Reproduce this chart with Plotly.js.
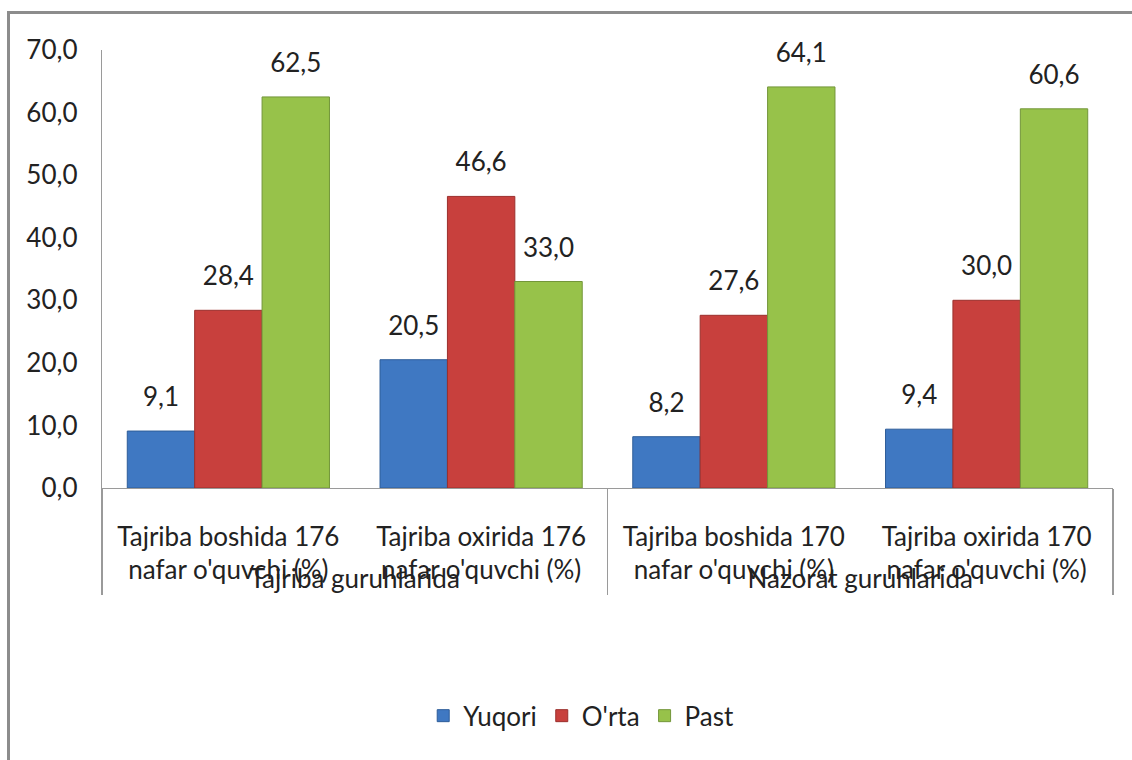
<!DOCTYPE html>
<html>
<head>
<meta charset="utf-8">
<script src="https://cdn.plot.ly/plotly-3.0.1.min.js"></script>
<style>
  html, body { margin: 0; padding: 0; background: #ffffff; overflow: hidden; }
  #wrap { position: relative; width: 1132px; height: 760px; }
  #chart { position: absolute; left: 0; top: 0; width: 1132px; height: 760px; }
  #frame { position: absolute; left: 7px; top: 11px; width: 2000px; height: 2000px;
           border-left: 3px solid #8c8c8c; border-top: 3px solid #8c8c8c; pointer-events: none; }
  #fontwarm { position: absolute; left: -9999px; top: 0; font-family: Lato; font-size: 26px; }
</style>
</head>
<body>
<div id="wrap">
  <div id="chart"></div>
  <div id="frame"></div>
</div>
<div id="fontwarm">Tajriba guruhlarida 0123456789,</div>
<script>
// ---- data ----
var groupLabels = ['Tajriba guruhlarida', 'Tajriba guruhlarida', 'Nazorat guruhlarida', 'Nazorat guruhlarida'];
var stageLabels = [
  "Tajriba boshida 176<br>nafar o'quvchi (%)",
  "Tajriba oxirida 176<br>nafar o'quvchi (%)",
  "Tajriba boshida 170<br>nafar o'quvchi (%)",
  "Tajriba oxirida 170<br>nafar o'quvchi (%)"
];
var seriesNames = ['Yuqori', "O'rta", 'Past'];
var yuqori = [9.1, 20.5, 8.2, 9.4];
var orta   = [28.4, 46.6, 27.6, 30.0];
var past   = [62.5, 33.0, 64.1, 60.6];
var seriesValues = [yuqori, orta, past];

// ---- styling ----
var FONT = 'Lato, "Open Sans", sans-serif';
var fills = ['#3f78c2', '#c8403d', '#97c24a'];
var edges = ['#2e5d99', '#9b2f2c', '#73963a'];

function buildTraces() {
  var traces = [];
  seriesValues.forEach(function (vals, k) {
    traces.push({
      type: 'bar',
      name: seriesNames[k],
      x: [groupLabels, stageLabels],
      y: vals,
      offsetgroup: 'g' + k,
      marker: { color: fills[k], line: { color: edges[k], width: 1 } },
      hoverinfo: 'skip'
    });
  });
  seriesValues.forEach(function (vals, k) {
    traces.push({
      type: 'scatter',
      mode: 'markers+text',
      x: [groupLabels, stageLabels],
      y: vals,
      offsetgroup: 'g' + k,
      texttemplate: '%{y:.1f}',
      textposition: 'top center',
      textfont: { family: FONT, size: 26, color: '#222222' },
      marker: { size: 28, color: 'rgba(0,0,0,0)' },
      cliponaxis: false,
      showlegend: false,
      hoverinfo: 'skip'
    });
  });
  return traces;
}

var layout = {
  width: 1132,
  height: 760,
  margin: { l: 102, r: 19, t: 50, b: 272 },
  paper_bgcolor: 'rgba(0,0,0,0)',
  plot_bgcolor: '#ffffff',
  separators: ', ',
  barmode: 'group',
  bargap: 0.2,
  bargroupgap: 0,
  scattermode: 'group',
  scattergap: 0.2,
  font: { family: FONT, size: 26, color: '#222222' },
  showlegend: true,
  legend: {
    orientation: 'h',
    x: 0.474, xanchor: 'center',
    y: -0.52, yanchor: 'middle',
    font: { family: FONT, size: 26, color: '#222222' },
    bgcolor: 'rgba(0,0,0,0)',
    itemwidth: 30
  },
  xaxis: {
    type: 'multicategory',
    showline: true,
    linecolor: '#9a9a9a',
    linewidth: 1.3,
    ticks: '',
    showgrid: false,
    zeroline: false,
    showdividers: true,
    dividercolor: '#9a9a9a',
    dividerwidth: 1.3,
    ticklabelstandoff: 25,
    tickfont: { family: FONT, size: 26, color: '#222222' }
  },
  yaxis: {
    range: [0, 70],
    dtick: 10,
    tick0: 0,
    tickformat: '.1f',
    showline: true,
    linecolor: '#9a9a9a',
    linewidth: 1.3,
    ticks: '',
    showgrid: false,
    zeroline: false,
    ticklabelstandoff: 18,
    tickfont: { family: FONT, size: 26, color: '#222222' }
  }
};

function draw() {
  Plotly.newPlot('chart', buildTraces(), layout, { displayModeBar: false, staticPlot: true })
    .then(function (gd) {
      // re-measure the labels now that the font metrics are final
      return Plotly.relayout(gd, { 'xaxis.ticklabelstandoff': 25 });
    });
}

var fontsReady = (document.fonts && document.fonts.load)
  ? Promise.all([
      document.fonts.load('26px Lato'),
      document.fonts.load('24px Lato')
    ]).then(function () { return document.fonts.ready; })
  : Promise.resolve();

fontsReady.then(draw, draw);
</script>
</body>
</html>
